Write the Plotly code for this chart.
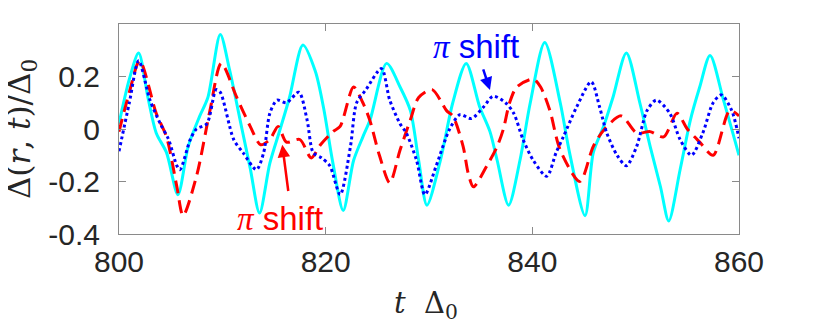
import plotly.graph_objects as go

# ---- data ----
t_cyan = [800.0, 801.0, 801.9, 802.8, 803.6, 804.6, 805.7, 806.7, 807.8, 808.6, 809.8, 810.7,
          811.9, 812.7, 813.6, 814.6, 815.6, 816.5, 817.8, 819.0, 819.8, 820.7, 821.7, 822.7,
          823.6, 824.3, 825.9, 827.2, 828.2, 829.0, 829.8, 831.1, 832.3, 833.6, 834.9, 835.9,
          836.6, 837.7, 838.8, 839.8, 841.2, 842.7, 843.6, 845.1, 845.9, 846.9, 847.8, 849.1,
          850.4, 851.4, 852.4, 853.2, 854.3, 855.3, 856.2, 857.2, 858.5, 860.0]
v_cyan = [0.02, 0.19, 0.29, 0.12, -0.015, -0.09, -0.25, -0.066, 0.048, 0.12, 0.36, 0.225,
          0.0, -0.15, -0.32, -0.13, 0.0, 0.12, 0.32, 0.22, 0.08, -0.13, -0.31, -0.12,
          -0.03, 0.035, 0.25, 0.16, 0.07, -0.12, -0.29, -0.12, 0.10, 0.25, 0.085, -0.01,
          -0.12, -0.29, -0.12, 0.10, 0.33, 0.10, -0.09, -0.33, -0.09, 0.01, 0.12, 0.29,
          0.10, -0.066, -0.22, -0.35, -0.155, 0.035, 0.16, 0.28, 0.11, -0.10]

t_red = [800.0, 801.0, 802.0, 803.6, 804.6, 805.6, 806.2, 807.5, 808.8, 809.9, 811.4, 812.7,
         813.7, 814.6, 815.4, 816.2, 817.5, 818.6, 819.5, 820.7, 821.4, 822.7, 823.6, 824.3,
         825.2, 826.2, 827.2, 828.2, 829.0, 830.3, 831.7, 832.3, 833.3, 833.8, 834.3, 835.6,
         836.6, 837.2, 837.8, 838.5, 840.1, 840.8, 841.7, 842.7, 844.6, 845.9, 847.0, 848.6,
         850.1, 851.4, 852.7, 854.0, 855.0, 856.2, 857.5, 859.1, 860.0]
v_red = [-0.01, 0.14, 0.26, 0.06, -0.03, -0.22, -0.33, -0.18, 0.07, 0.25, 0.12, 0.01,
         -0.06, -0.04, 0.01, -0.05, -0.04, -0.11, -0.06, -0.01, 0.01, 0.16, 0.10, 0.03,
         -0.10, -0.205, -0.08, 0.035, 0.12, 0.15, 0.07, 0.05, -0.066, -0.17, -0.22, -0.14,
         -0.066, 0.0, 0.10, 0.16, 0.19, 0.16, 0.07, -0.08, -0.20, -0.066, 0.0, 0.05,
         -0.015, -0.01, -0.03, 0.06, 0.0, -0.05, -0.10, 0.07, 0.05]

t_blue = [800.0, 801.0, 801.9, 803.0, 804.0, 804.8, 805.6, 805.9, 806.9, 807.5, 808.5, 809.4,
          809.8, 811.1, 812.0, 813.3, 814.0, 814.6, 815.3, 816.2, 817.4, 818.2, 818.8, 819.6,
          820.4, 821.4, 822.4, 823.0, 823.9, 825.4, 826.2, 827.2, 827.8, 828.8, 829.6, 830.7,
          832.0, 833.0, 834.1, 835.3, 836.2, 837.4, 838.2, 839.1, 840.1, 841.4, 842.3, 843.0,
          844.3, 845.7, 846.5, 847.2, 848.2, 849.1, 850.1, 851.1, 852.0, 853.3, 854.3, 855.4,
          856.5, 857.5, 858.3, 859.3, 860.0]
v_blue = [-0.085, 0.10, 0.26, 0.11, 0.02, -0.04, -0.14, -0.155, -0.04, 0.0, 0.02, 0.15,
          0.14, -0.04, -0.09, -0.155, -0.09, 0.06, 0.11, 0.10, 0.14, 0.035, -0.09, -0.11,
          -0.14, -0.25, -0.066, 0.10, 0.15, 0.23, 0.11, 0.02, -0.015, -0.12, -0.25, -0.14,
          0.0, 0.055, 0.04, 0.085, 0.125, 0.10, 0.06, -0.04, -0.12, -0.18, -0.09, -0.03,
          0.085, 0.18, 0.085, -0.015, -0.10, -0.14, -0.066, 0.07, 0.11, 0.06, -0.04, -0.10,
          -0.015, 0.10, 0.13, 0.07, -0.035]

x_ticks = [800, 820, 840, 860]
y_ticks = [-0.4, -0.2, 0, 0.2]
y_ticklabels = ["-0.4", "-0.2", "0", "0.2"]

fig = go.Figure()
fig.add_trace(go.Scatter(x=t_cyan, y=v_cyan, mode="lines",
                         line=dict(color="#00FFFF", width=3, shape="spline", smoothing=0.8)))
fig.add_trace(go.Scatter(x=t_red, y=v_red, mode="lines",
                         line=dict(color="#FF0000", width=3, dash="13px,7px", shape="spline", smoothing=0.8)))
fig.add_trace(go.Scatter(x=t_blue, y=v_blue, mode="lines",
                         line=dict(color="#0000FF", width=3, dash="3px,3px", shape="spline", smoothing=0.8)))

axis_common = dict(showline=True, linecolor="#8a8a8a", linewidth=1, mirror="allticks",
                   ticks="inside", ticklen=7, tickcolor="#8a8a8a", showgrid=False, zeroline=False,
                   tickfont=dict(family="Liberation Sans, Arial, sans-serif", size=30, color="#262626"))
fig.update_xaxes(range=[800, 860], tickvals=x_ticks, ticklabelstandoff=1, **axis_common)
fig.update_yaxes(range=[-0.4, 0.4], tickvals=y_ticks, ticktext=y_ticklabels, ticklabelstandoff=12,
                 **axis_common)

serif = "DejaVu Serif, Liberation Serif, serif"
sans = "Liberation Sans, Arial, sans-serif"

annotations = [
    # y title
    dict(xref="paper", yref="paper", x=-0.158, y=0.5, textangle=-90, showarrow=False,
         text="Δ(<i>r</i>, <i>t</i>)/Δ<sub>0</sub>",
         font=dict(family=serif, size=31, color="#262626"), xanchor="center", yanchor="middle"),
    # x title
    dict(xref="paper", yref="paper", x=0.495, y=-0.34, showarrow=False,
         text="<i>t</i>  Δ<sub>0</sub>",
         font=dict(family=serif, size=29, color="#262626"), xanchor="center", yanchor="middle"),
    # blue label
    dict(x=834.5, y=0.315, xref="x", yref="y", showarrow=False,
         text='<i><span style="font-family:Liberation Serif">π</span></i> shift',
         font=dict(family=sans, size=33, color="#0000FF")),
    dict(x=835.9, y=0.149, ax=835.2, ay=0.233, xref="x", yref="y", axref="x", ayref="y",
         showarrow=True, arrowhead=2, arrowsize=1, arrowwidth=2.5, arrowcolor="#0000FF", text=""),
    # red label
    dict(x=815.6, y=-0.34, xref="x", yref="y", showarrow=False,
         text='<i><span style="font-family:Liberation Serif">π</span></i> shift',
         font=dict(family=sans, size=33, color="#FF0000")),
    dict(x=815.8, y=-0.06, ax=816.4, ay=-0.242, xref="x", yref="y", axref="x", ayref="y",
         showarrow=True, arrowhead=2, arrowsize=1, arrowwidth=2.5, arrowcolor="#FF0000", text=""),
]

# the page has an 8px body margin, so the margins are offset to land the plot where the reference has it
fig.update_layout(width=817, height=327, margin=dict(l=111, r=86, t=16, b=101),
                  paper_bgcolor="white", plot_bgcolor="white", showlegend=False,
                  annotations=annotations)

fig.write_html("out.html")
